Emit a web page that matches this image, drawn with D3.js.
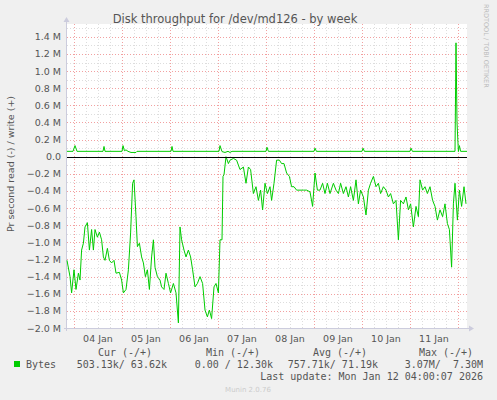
<!DOCTYPE html>
<html><head><meta charset="utf-8">
<script src="https://cdn.jsdelivr.net/npm/d3@7"></script>
<style>body{margin:0;background:#f0f0f0}svg{display:block}</style></head>
<body><svg id="c" width="497" height="400"></svg>
<script>
const title = "Disk throughput for /dev/md126 - by week";
const yLabel = "Pr second read (-) / write (+)";
const startTime = new Date(2026, 0, 3, 20, 30);
const readHours = [0,1.5,2.3,3.5,4.5,5.7,6.5,7.3,8.2,9,10.2,11.2,12.3,13.2,14,15.2,16.2,17.3,18.2,19,20.2,21.2,22.3,23.5,24.5,26.2,27.3,28.2,29.5,30.7,31.8,32.8,33.5,34.5,35.2,36.2,37.3,38.2,39.2,40.2,41.2,42.3,43.2,44,45.2,46.5,47.3,48.5,49.5,50.7,51.8,53.2,54.5,55.7,56.5,57.3,58.5,59.5,60.7,61.8,62.8,64,65.2,66.5,67.8,69,70.2,71.2,72.3,73.5,74.5,75.7,76.5,77.5,78,78.5,79.5,80.7,81.5,83.2,84.8,86.5,88.2,89.5,90.7,91.8,93.2,94.5,95.7,96.8,97.8,99,100.2,101.5,102.3,103.5,104.8,106.2,107.3,108.5,109.8,111.2,112.3,113.5,114.8,116.5,118.2,119.8,121.5,122.8,124,125.2,126.5,127.8,129,130.2,131.5,133.2,134.5,135.7,136.8,138.2,139.5,140.7,141.8,143.2,144.5,145.7,146.8,148.2,149.5,150.7,151.8,153.2,154.5,155.7,156.8,158.2,159.5,160.7,161.8,163.2,164.5,165.7,166.8,168.2,169.5,170.7,171.8,173.2,174.5,175.7,176.5,177.8,179,180.2,181.5,182.8,184,185.2,186.5,187.8,189,190.2,191.2,192.3,193.2,194,195.2,196.2,197.3,198.5,199.5];
const readValues = [1.21,1.40,1.59,1.32,1.55,1.36,1.44,1.09,1.01,0.82,0.77,1.09,0.85,1.09,0.85,0.94,0.88,0.97,1.17,1.21,1.07,1.21,1.24,1.21,1.36,1.35,1.44,1.59,1.55,1.32,0.89,0.31,0.27,0.70,1.05,1.01,1.17,1.24,1.40,1.32,1.55,1.17,0.97,1.29,1.40,1.44,1.52,1.55,1.36,1.48,1.59,1.48,1.59,1.94,0.82,0.97,1.09,1.17,1.09,1.17,1.32,1.52,1.48,1.40,1.48,1.79,1.87,1.79,1.89,1.52,1.48,1.59,0.97,0.97,0.23,0.21,0.00,0.08,0.04,0.02,0.04,0.15,0.12,0.31,0.12,0.15,0.43,0.35,0.51,0.39,0.62,0.31,0.43,0.35,0.51,0.31,0.04,0.04,0.08,0.08,0.19,0.23,0.35,0.35,0.39,0.39,0.39,0.39,0.41,0.58,0.19,0.39,0.39,0.31,0.43,0.31,0.43,0.31,0.39,0.43,0.31,0.43,0.35,0.47,0.35,0.51,0.27,0.55,0.39,0.47,0.68,0.39,0.31,0.23,0.35,0.31,0.43,0.35,0.39,0.47,0.43,0.55,0.51,0.97,0.51,0.55,0.47,0.62,0.55,0.82,0.58,0.70,0.27,0.39,0.35,0.43,0.35,0.51,0.58,0.74,0.62,0.70,0.55,0.78,0.85,1.29,0.55,0.31,0.74,0.39,0.58,0.35,0.55];
const writeHours = [0,3,4,5,18,18.5,19,27.5,28,28.7,29.5,30.5,32,34.5,35,52,52.5,53,76,76.5,77.5,79,80.5,81.5,82.5,99.5,100,100.7,123.5,124,124.7,147.5,148,148.7,171.5,172,172.7,194,194.5,195,195.7,196.2,196.8,200];
const writeValues = [.063,.063,.13,.063,.063,.12,.063,.063,.13,.07,.08,.063,.05,.05,.063,.063,.12,.063,.063,.13,.06,.05,.063,.05,.063,.063,.11,.063,.063,.10,.063,.063,.10,.063,.063,.10,.063,.063,1.33,.4,.06,.13,.063,.063];
const yTicks = [-2.0,-1.8,-1.6,-1.4,-1.2,-1.0,-0.8,-0.6,-0.4,-0.2,0,0.2,0.4,0.6,0.8,1.0,1.2,1.4];
const dayLabels = ["04 Jan","05 Jan","06 Jan","07 Jan","08 Jan","09 Jan","10 Jan","11 Jan"];
const legendHeads = ["Cur (-/+)","Min (-/+)","Avg (-/+)","Max (-/+)"];
const legendVals = ["503.13k/ 63.62k","0.00 / 12.30k","757.71k/ 71.19k","3.07M/  7.30M"];

const svg = d3.select("#c");
const L=67,R=467,T=24,B=328;
const hr = h => new Date(+startTime + h*3600e3);
const x = d3.scaleTime().domain([hr(0),hr(200)]).range([L,R]);
const y = d3.scaleLinear().domain([-2.0,1.55]).range([B,T]);
svg.append("rect").attr("x",L).attr("y",T).attr("width",R-L).attr("height",B-T).attr("fill","#fff");
const g = svg.append("g");
for(let v=-2.0; v<=1.55; v+=0.1){ const yy=Math.round(y(v))+0.5;
  g.append("line").attr("x1",L).attr("x2",R).attr("y1",yy).attr("y2",yy).attr("stroke","#ddd").attr("stroke-dasharray","1,2");}
const sixH = d3.timeHour.every(6).range(hr(0),hr(200));
sixH.forEach(t=>{const xx=Math.round(x(t))+0.5;
  g.append("line").attr("x1",xx).attr("x2",xx).attr("y1",T).attr("y2",B).attr("stroke","#ddd").attr("stroke-dasharray","1,2");});
yTicks.forEach(v=>{const yy=Math.round(y(v))+0.5;
  g.append("line").attr("x1",L).attr("x2",R).attr("y1",yy).attr("y2",yy).attr("stroke","#f2a0a0").attr("stroke-dasharray","1,2");});
const days = d3.timeDay.range(hr(0),hr(200));
days.forEach(t=>{const xx=Math.round(x(t))+0.5;
  g.append("line").attr("x1",xx).attr("x2",xx).attr("y1",T).attr("y2",B).attr("stroke","#f2a0a0").attr("stroke-dasharray","1,2");});
svg.append("line").attr("x1",L-0.5).attr("x2",L-0.5).attr("y1",B+3).attr("y2",T-4).attr("stroke","#ccd").attr("stroke-width",1);
svg.append("path").attr("d",`M${L-3.5},${T-2}L${L-0.5},${T-7}L${L+2.5},${T-2}Z`).attr("fill","#ccd");
svg.append("line").attr("x1",L-3).attr("x2",R+4).attr("y1",B+0.5).attr("y2",B+0.5).attr("stroke","#ccd");
svg.append("path").attr("d",`M${R+2},${B-2.5}L${R+7},${B+0.5}L${R+2},${B+3.5}Z`).attr("fill","#ccd");
const fmt = v => Math.abs(v)<1e-9 ? "0.0" : d3.format(".1f")(v)+" M";
yTicks.forEach(v=>svg.append("text").attr("x",L-6).attr("y",y(v)+3.5).attr("text-anchor","end")
  .attr("font-family","DejaVu Sans").attr("font-size",9.5).attr("fill","#555").text(fmt(v)));
days.forEach((t,i)=>svg.append("text").attr("x",x(d3.timeHour.offset(t,12))).attr("y",342).attr("text-anchor","middle")
  .attr("font-family","DejaVu Sans").attr("font-size",9.5).attr("fill","#555").text(dayLabels[i]));
const line = d3.line().x(d=>x(hr(d[0]))).y(d=>y(d[1]));
svg.append("path").datum(writeHours.map((h,i)=>[h,writeValues[i]])).attr("d",line).attr("fill","none").attr("stroke","#00cc00").attr("stroke-width",1);
svg.append("path").datum(readHours.map((h,i)=>[h,-readValues[i]])).attr("d",line).attr("fill","none").attr("stroke","#00cc00").attr("stroke-width",1);
svg.append("line").attr("x1",L).attr("x2",R).attr("y1",Math.round(y(0))+0.5).attr("y2",Math.round(y(0))+0.5).attr("stroke","#000");
svg.append("text").attr("x",235).attr("y",23).attr("text-anchor","middle").attr("font-family","DejaVu Sans").attr("font-size",11.5).attr("fill","#555").text(title);
svg.append("text").attr("transform","translate(14,164) rotate(-90)").attr("text-anchor","middle").attr("font-family","DejaVu Sans").attr("font-size",9.5).attr("fill","#555").text(yLabel);
svg.append("text").attr("transform","translate(484,4) rotate(90)").attr("text-anchor","start").attr("font-family","DejaVu Sans").attr("font-size",6.5).attr("fill","#bbb").text("RRDTOOL / TOBI OETIKER");
const mono = s=>s.attr("font-family","DejaVu Sans Mono").attr("font-size",10).attr("fill","#555").attr("xml:space","preserve");
const headX=[125,233,340,446];
legendHeads.forEach((h,i)=>mono(svg.append("text").attr("x",headX[i]).attr("y",356).attr("text-anchor","middle").text(h)));
const valX=[167,273,378,483];
legendVals.forEach((v,i)=>mono(svg.append("text").attr("x",valX[i]).attr("y",368).attr("text-anchor","end").text(v)));
svg.append("rect").attr("x",14).attr("y",361).attr("width",6).attr("height",6).attr("fill","#00cc00");
mono(svg.append("text").attr("x",26).attr("y",368).text("Bytes"));
mono(svg.append("text").attr("x",483).attr("y",380).attr("text-anchor","end").text("Last update: Mon Jan 12 04:00:07 2026"));
svg.append("text").attr("x",248).attr("y",392).attr("text-anchor","middle").attr("font-family","DejaVu Sans").attr("font-size",7).attr("fill","#ccc").text("Munin 2.0.76");
</script></body></html>
